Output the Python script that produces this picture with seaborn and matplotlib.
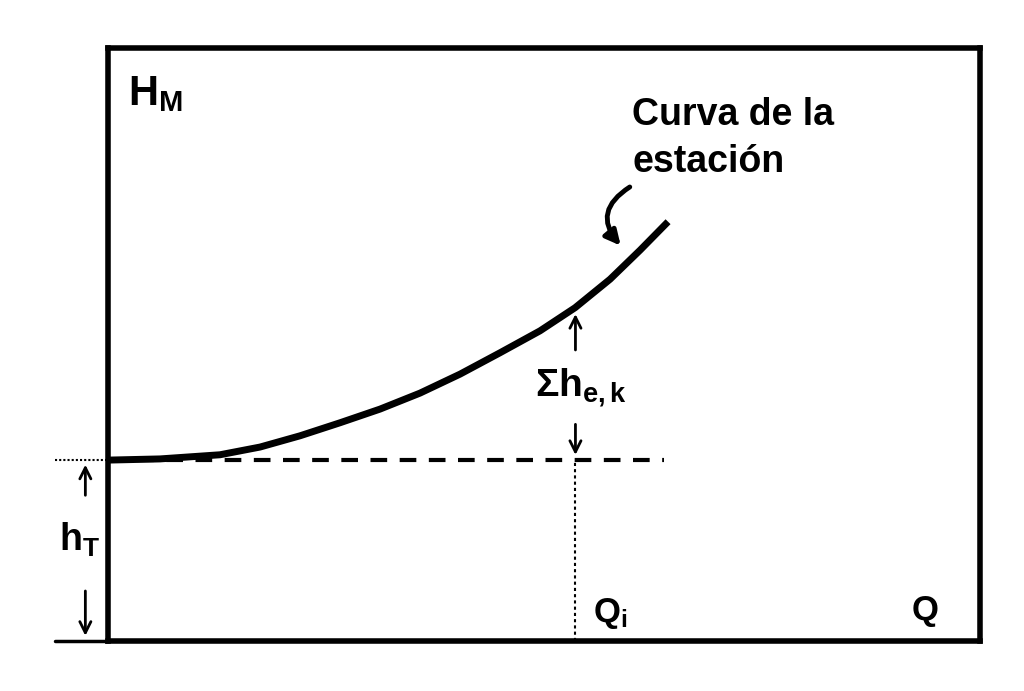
import seaborn as sns
import matplotlib.pyplot as plt
import pandas as pd

# station curve (Q, H_M in arbitrary 0-100 units)
curve_q = [0.0, 5.96, 12.84, 17.43, 22.02, 26.61, 31.19, 35.78, 40.37,
           44.95, 49.54, 53.56, 57.57, 61.01, 64.22]
curve_h = [30.5, 30.7, 31.4, 32.7, 34.6, 36.8, 39.1, 41.8, 45.0,
           48.6, 52.3, 56.2, 61.0, 65.9, 70.7]

h_t = 30.5      # static head level
q_i = 53.6      # operating flow
dash_end = 63.8

df = pd.DataFrame({'Q': curve_q, 'H': curve_h})

sns.set_theme(style="white")
plt.rcParams['font.family'] = ['Liberation Sans', 'DejaVu Sans']
plt.rcParams['text.color'] = 'black'
plt.rcParams['mathtext.fontset'] = 'custom'
plt.rcParams['mathtext.rm'] = 'Liberation Sans'
plt.rcParams['mathtext.bf'] = 'Liberation Sans:bold'
plt.rcParams['mathtext.it'] = 'Liberation Sans:italic'

fig = plt.figure(figsize=(10.24, 6.91), dpi=100)
ax = fig.add_axes([0.1055, 0.0724, 0.8516, 0.8582])

sns.lineplot(data=df, x='Q', y='H', ax=ax, color='black', linewidth=5,
             sort=False, solid_capstyle='butt', solid_joinstyle='round')

ax.set_xlim(0, 100)
ax.set_ylim(0, 100)
ax.set_xticks([])
ax.set_yticks([])
ax.set_xlabel('')
ax.set_ylabel('')
for s in ax.spines.values():
    s.set_linewidth(4)
    s.set_color('black')

# dashed static head line
ax.plot([0, dash_end], [h_t, h_t], color='black', lw=3, linestyle=(0, (4, 3)))
ax.plot([-6.1, 0], [h_t, h_t], color='black', lw=1.5, linestyle=(0, (1, 1)), clip_on=False)
ax.plot([-6.1, 0], [0, 0], color='black', lw=2.5, clip_on=False)

# dotted line at Q_i
ax.plot([q_i, q_i], [0, h_t], color='black', lw=1.5, linestyle=(0, (1.5, 1.5)))

arrow = dict(arrowstyle='->', color='black', lw=2, mutation_scale=20)

# h_T dimension
ax.annotate('', xy=(-2.6, h_t - 0.3), xytext=(-2.6, 24.1), arrowprops=arrow, annotation_clip=False)
ax.annotate('', xy=(-2.6, 0.4), xytext=(-2.6, 8.9), arrowprops=arrow, annotation_clip=False)
ax.text(-5.6, 15.3, r'$\mathbf{h_T}$', fontsize=27, ha='left', va='baseline', clip_on=False)

# sum of losses dimension
ax.annotate('', xy=(q_i, 55.6), xytext=(q_i, 48.6), arrowprops=arrow)
ax.annotate('', xy=(q_i, h_t + 0.4), xytext=(q_i, 37.0), arrowprops=arrow)
ax.text(49.0, 41.1, r'$\mathbf{\Sigma h_{e,k}}$', fontsize=28, ha='left', va='baseline')

# labels
ax.text(2.3, 90.4, r'$\mathbf{H_M}$', fontsize=30, ha='left', va='baseline')
ax.text(55.6, 3.2, r'$\mathbf{Q_i}$', fontsize=25, ha='left', va='baseline')
ax.text(92.1, 3.5, 'Q', fontsize=25, fontweight='bold', ha='left', va='baseline')

ax.text(60.1, 87.0, 'Curva de la', fontsize=27, fontweight='bold', ha='left', va='baseline')
ax.text(60.1, 79.1, 'estación', fontsize=27, fontweight='bold', ha='left', va='baseline')

ax.annotate('', xy=(59.0, 66.3), xytext=(60.1, 76.8),
            arrowprops=dict(arrowstyle='-|>', color='black', lw=3.5, mutation_scale=22,
                            connectionstyle='arc3,rad=0.6'))

plt.savefig('out.png', dpi=100)
